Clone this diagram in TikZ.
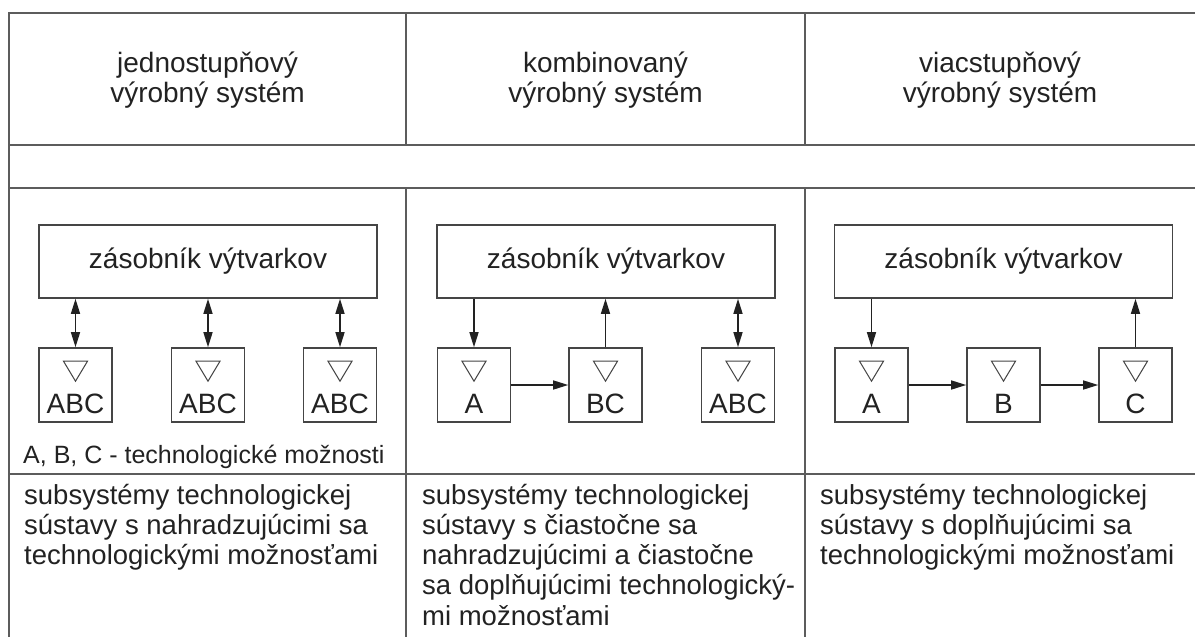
\documentclass[tikz,border=0pt]{standalone}
\usepackage{fontspec}
\setmainfont{Liberation Sans}
\usetikzlibrary{arrows.meta,calc}
\definecolor{ink}{HTML}{222222}
\definecolor{rulegray}{HTML}{5C5C5C}
\definecolor{boxline}{HTML}{454545}

% small down-pointing triangle drawn inside a cell
\newcommand{\celltri}[1]{%
  \draw[tri] ($(#1.north)+(-12,14)$) -- ($(#1.north)+(12,14)$) -- ($(#1.north)+(0,34)$) -- cycle;}

\begin{document}
\begin{tikzpicture}[x=1pt,y=-1pt,
  grid/.style={draw=rulegray,line width=2pt},
  txt/.style={inner sep=0pt,text=ink,font=\fontsize{28}{30.25}\selectfont},
  desc/.style={txt,align=left,anchor=base west,font=\fontsize{27.5}{30.25}\selectfont},
  store/.style={draw=boxline,line width=1.6pt,minimum width=338pt,minimum height=73pt,
                inner sep=0pt,text=ink,font=\fontsize{28}{30}\selectfont},
  cell/.style={draw=boxline,line width=1.6pt,minimum width=73pt,minimum height=74pt,inner sep=0pt},
  tri/.style={draw=boxline,line width=1pt,line join=miter},
  arr/.style={draw=ink,line width=1.5pt,-{Triangle[length=15pt,width=9pt]}},
  darr/.style={draw=ink,line width=1.5pt,{Triangle[length=15pt,width=9pt]}-{Triangle[length=15pt,width=9pt]}}
]
\useasboundingbox (0,0) rectangle (1195,637);
\fill[white] (0,0) rectangle (1195,637);

% table grid
\draw[grid] (9,13) -- (1197,13);
\draw[grid] (9,145) -- (1197,145);
\draw[grid] (9,188) -- (1197,188);
\draw[grid] (9,474) -- (1197,474);
\draw[grid] (9,12) -- (9,640);
\draw[grid] (406,13) -- (406,145);
\draw[grid] (406,188) -- (406,640);
\draw[grid] (805,13) -- (805,145);
\draw[grid] (805,188) -- (805,640);

% column headers
\node[txt,align=center] (h1) at (207.5,80) {jednostupňový\\výrobný systém};
\node[txt,align=center] (h2) at (605.5,80) {kombinovaný\\výrobný systém};
\node[txt,align=center] (h3) at (1000,80) {viacstupňový\\výrobný systém};

% --- single-stage system
\node[store] (s1) at (208,261.5) {zásobník výtvarkov};
\node[cell] (a1) at (75.5,385) {};
\node[cell] (a2) at (208,385) {};
\node[cell] (a3) at (340,385) {};
\foreach \c in {a1,a2,a3}{
  \celltri{\c}
  \node[txt,anchor=base] (\c t) at ($(\c.south)+(0,-9)$) {ABC};
}
\draw[darr] (a1.north) -- (a1.north |- s1.south);
\draw[darr] (a2.north) -- (a2.north |- s1.south);
\draw[darr] (a3.north) -- (a3.north |- s1.south);
\node[txt,anchor=base west,font=\fontsize{25}{28}\selectfont] (leg) at (23,463)
  {A, B, C - technologické možnosti};

% --- combined system
\node[store] (s2) at (606,261.5) {zásobník výtvarkov};
\node[cell] (b1) at (474,385) {};
\node[cell] (b2) at (605.5,385) {};
\node[cell] (b3) at (738,385) {};
\foreach \c in {b1,b2,b3}{\celltri{\c}}
\node[txt,anchor=base] (b1t) at ($(b1.south)+(0,-9)$) {A};
\node[txt,anchor=base] (b2t) at ($(b2.south)+(0,-9)$) {BC};
\node[txt,anchor=base] (b3t) at ($(b3.south)+(0,-9)$) {ABC};
\draw[arr] (b1.north |- s2.south) -- (b1.north);
\draw[arr] (b2.north) -- (b2.north |- s2.south);
\draw[darr] (b3.north) -- (b3.north |- s2.south);
\draw[arr] (b1.east) -- (b2.west);

% --- multi-stage system
\node[store] (s3) at (1003.5,261.5) {zásobník výtvarkov};
\node[cell] (c1) at (871.5,385) {};
\node[cell] (c2) at (1003.5,385) {};
\node[cell] (c3) at (1135.5,385) {};
\foreach \c in {c1,c2,c3}{\celltri{\c}}
\node[txt,anchor=base] (c1t) at ($(c1.south)+(0,-9)$) {A};
\node[txt,anchor=base] (c2t) at ($(c2.south)+(0,-9)$) {B};
\node[txt,anchor=base] (c3t) at ($(c3.south)+(0,-9)$) {C};
\draw[arr] (c1.north |- s3.south) -- (c1.north);
\draw[arr] (c3.north) -- (c3.north |- s3.south);
\draw[arr] (c1.east) -- (c2.west);
\draw[arr] (c2.east) -- (c3.west);

% descriptions (the base anchor sits on the last line)
\node[desc] (d1) at (24,564.5)
  {subsystémy technologickej\\sústavy s nahradzujúcimi sa\\technologickými možnosťami};
\node[desc] (d2) at (422,625)
  {subsystémy technologickej\\sústavy s čiastočne sa\\nahradzujúcimi a čiastočne\\sa doplňujúcimi technologický-\\mi možnosťami};
\node[desc] (d3) at (820,564.5)
  {subsystémy technologickej\\sústavy s doplňujúcimi sa\\technologickými možnosťami};
\end{tikzpicture}
\end{document}
